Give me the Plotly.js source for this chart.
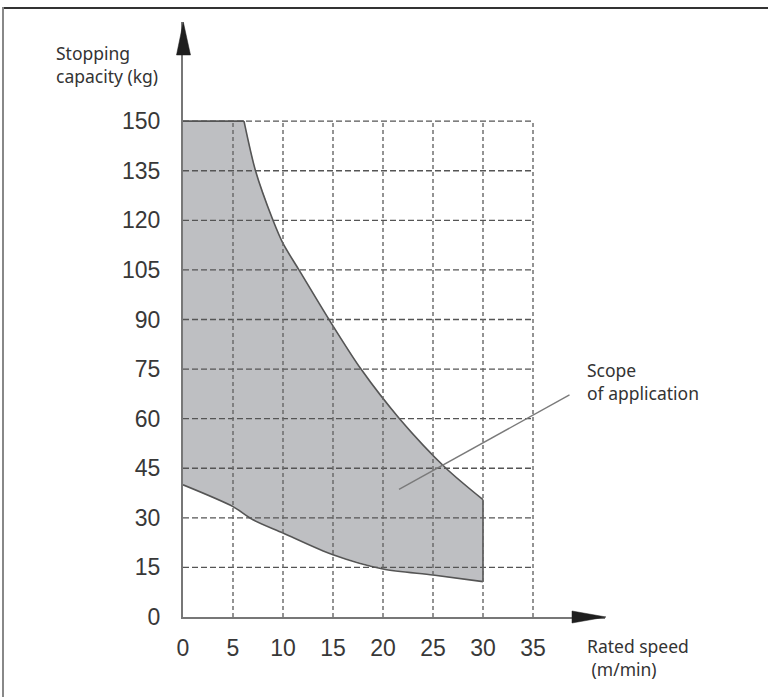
<!DOCTYPE html>
<html>
<head>
<meta charset="utf-8">
<script src="https://cdn.plot.ly/plotly-3.0.1.min.js"></script>
<style>
  html, body { margin: 0; padding: 0; background: #fff; }
  #chart { width: 768px; height: 697px; }
</style>
</head>
<body>
<div id="chart"></div>
<script>
// ---- Data ----
const xTicks = [0, 5, 10, 15, 20, 25, 30, 35];
const yTicks = [0, 15, 30, 45, 60, 75, 90, 105, 120, 135, 150];

// Upper boundary of the scope of application (speed m/min, capacity kg)
const upperSpeed = [0, 6.1, 7.25, 9, 10, 11.6, 14.6, 17.8, 21.65, 26.3, 30];
const upperCap   = [150, 150, 135, 120, 113, 105, 90, 75, 60, 45, 35.5];

// Lower boundary
const lowerSpeed = [0, 5, 7, 10, 15, 20, 25, 30];
const lowerCap   = [40, 33.4, 29.4, 25.4, 18.8, 14.5, 12.7, 10.7];

// Leader line for the "Scope of application" label
const leaderSpeed = [21.6, 38.65];
const leaderCap   = [38.6, 67.2];

const xLabelLines = ['Rated speed', '\u00a0(m/min)'];
const yLabelLines = ['Stopping', 'capacity (kg)'];
const areaLabelLines = ['Scope', 'of application'];

// ---- Layout geometry ----
const W = 768, H = 697;
const M = { l: 183, r: 163, t: 22, b: 80 };
const PW = W - M.l - M.r, PH = H - M.t - M.b;
const px = x => (x - M.l) / PW;          // pixel x -> paper
const py = y => (H - M.b - y) / PH;      // pixel y -> paper

// Polygon of the area (fill only)
const polyX = upperSpeed.concat(lowerSpeed.slice().reverse());
const polyY = upperCap.concat(lowerCap.slice().reverse());
polyX.push(upperSpeed[0]); polyY.push(upperCap[0]);

const outline = { color: '#555', width: 1.6 };
const nFlat = 2; // first two upper points form the flat top
const traces = [
  { x: polyX, y: polyY, type: 'scatter', mode: 'lines', fill: 'toself',
    fillcolor: '#bebfc2', line: { width: 0, color: 'rgba(0,0,0,0)' },
    hoverinfo: 'skip', showlegend: false },
  { x: upperSpeed.slice(0, nFlat), y: upperCap.slice(0, nFlat), type: 'scatter', mode: 'lines',
    line: outline, hoverinfo: 'skip', showlegend: false },
  { x: upperSpeed.slice(nFlat - 1), y: upperCap.slice(nFlat - 1), type: 'scatter', mode: 'lines',
    line: Object.assign({ shape: 'spline', smoothing: 0.8 }, outline), hoverinfo: 'skip', showlegend: false },
  { x: [upperSpeed[upperSpeed.length - 1], lowerSpeed[lowerSpeed.length - 1]],
    y: [upperCap[upperCap.length - 1], lowerCap[lowerCap.length - 1]], type: 'scatter', mode: 'lines',
    line: outline, hoverinfo: 'skip', showlegend: false },
  { x: lowerSpeed, y: lowerCap, type: 'scatter', mode: 'lines',
    line: Object.assign({ shape: 'spline', smoothing: 0.8 }, outline), hoverinfo: 'skip', showlegend: false }
];

const shapes = [];
const gMaxX = xTicks[xTicks.length - 1];
const gMaxY = yTicks[yTicks.length - 1];
yTicks.slice(1).forEach(v => shapes.push({
  type: 'line', xref: 'x', yref: 'y', x0: 0, x1: gMaxX, y0: v, y1: v,
  line: { color: '#555', width: 1.4, dash: '6px,3px' }, layer: 'above'
}));
xTicks.slice(1).forEach(v => shapes.push({
  type: 'line', xref: 'x', yref: 'y', x0: v, x1: v, y0: 0, y1: gMaxY,
  line: { color: '#666', width: 1.4, dash: '4px,3px' }, layer: 'above'
}));
shapes.push({
  type: 'line', xref: 'x', yref: 'y',
  x0: leaderSpeed[0], y0: leaderCap[0], x1: leaderSpeed[1], y1: leaderCap[1],
  line: { color: '#7a7a7a', width: 1.4 }, layer: 'above'
});
function tri(ax, ay, bx, by, cx, cy) {
  return `M ${px(ax)},${py(ay)} L ${px(bx)},${py(by)} L ${px(cx)},${py(cy)} Z`;
}
shapes.push({
  type: 'path', xref: 'paper', yref: 'paper',
  path: tri(183.3, 22, 176.5, 55, 190.5, 55),
  fillcolor: '#1e1e1e', line: { color: '#1e1e1e', width: 0.5 }
});
shapes.push({
  type: 'path', xref: 'paper', yref: 'paper',
  path: tri(606, 617, 572, 611, 572, 623),
  fillcolor: '#1e1e1e', line: { color: '#1e1e1e', width: 0.5 }
});
shapes.push({
  type: 'line', xref: 'paper', yref: 'paper',
  x0: px(3), x1: px(W + 2), y0: py(8), y1: py(8),
  line: { color: '#333', width: 2 }
});
shapes.push({
  type: 'line', xref: 'paper', yref: 'paper',
  x0: px(3), x1: px(3), y0: py(7), y1: py(H + 2),
  line: { color: '#888', width: 2 }
});

const labelFont = { family: 'Noto Sans, Open Sans, sans-serif', size: 17.5, color: '#333' };
function blockAnn(lines, xPix, yMidPix) {
  return { text: lines.join('<br>'), xref: 'paper', yref: 'paper', x: px(xPix), y: py(yMidPix),
    xanchor: 'left', yanchor: 'middle', align: 'left', showarrow: false, font: labelFont };
}
const annotations = [
  blockAnn(yLabelLines, 54, 65),
  blockAnn(areaLabelLines, 585, 381.5),
  blockAnn(xLabelLines, 585, 657)
];

const tickFont = { family: 'Liberation Sans, Arial, sans-serif', size: 23, color: '#383838' };
const layout = {
  width: W, height: H,
  margin: { l: M.l, r: M.r, t: M.t, b: M.b, pad: 0 },
  paper_bgcolor: '#fff', plot_bgcolor: 'rgba(0,0,0,0)',
  showlegend: false,
  xaxis: {
    range: [0, PW / 10], tickvals: xTicks, ticktext: xTicks.map(String),
    showgrid: false, zeroline: false, showline: true, linecolor: '#777', linewidth: 2,
    ticks: '', tickfont: tickFont, ticklabelstandoff: 9, fixedrange: true
  },
  yaxis: {
    range: [0, 180], tickvals: yTicks, ticktext: yTicks.map(String),
    showgrid: false, zeroline: false, showline: true, linecolor: '#777', linewidth: 2,
    ticks: '', tickfont: tickFont, ticklabelstandoff: 16, ticklabelshift: -3.5, fixedrange: true
  },
  shapes: shapes,
  annotations: annotations,
  hovermode: false
};

Plotly.newPlot('chart', traces, layout, { displayModeBar: false, staticPlot: true });
</script>
</body>
</html>
